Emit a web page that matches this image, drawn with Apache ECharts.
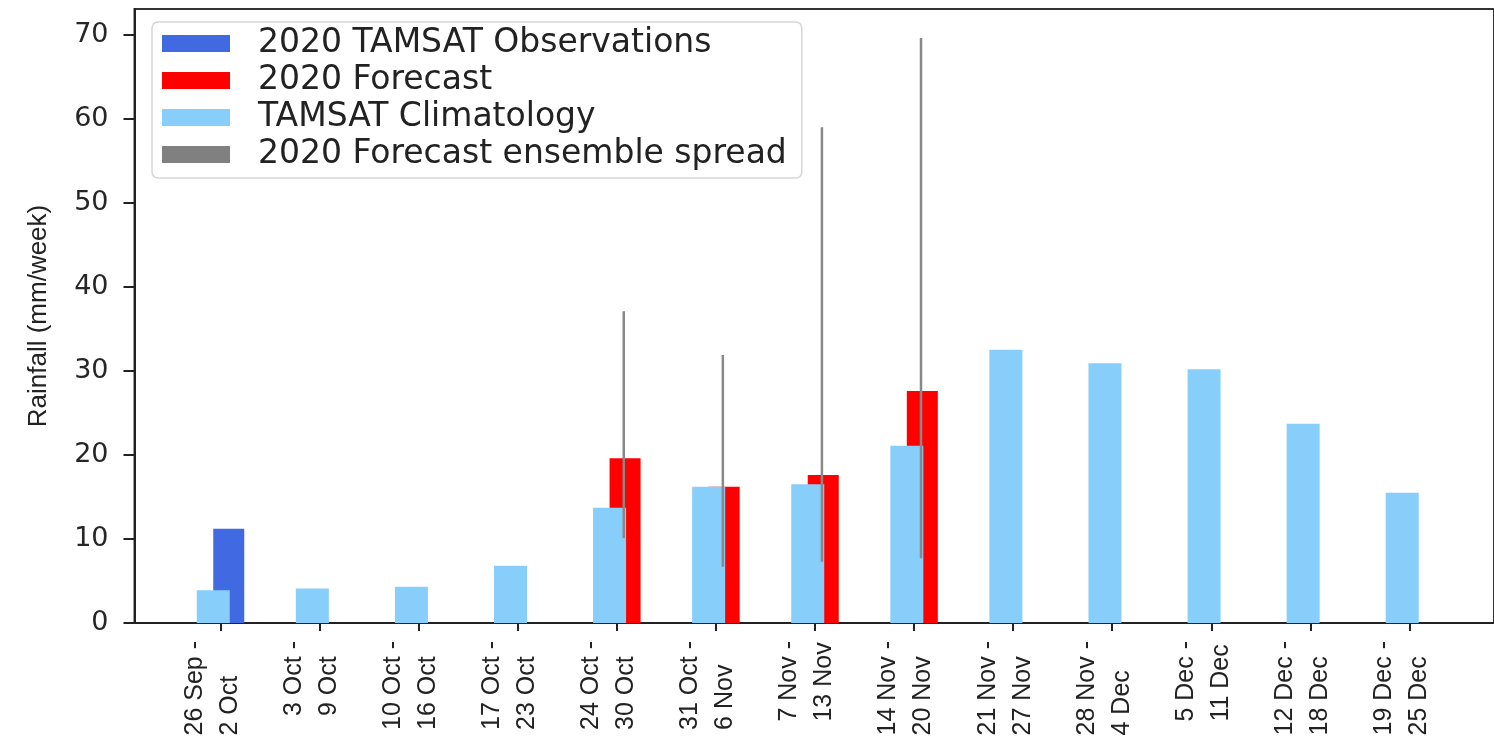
<!DOCTYPE html>
<html>
<head>
<meta charset="utf-8">
<script src="https://cdn.jsdelivr.net/npm/echarts@6/dist/echarts.min.js"></script>
<style>
  html, body { margin: 0; padding: 0; background: #fff; }
  #chart { width: 1494px; height: 750px; }
</style>
</head>
<body>
<div id="chart"></div>
<script>
// weeks (x categories)
var weeks = ['26 Sep -\n2 Oct', '3 Oct -\n9 Oct', '10 Oct -\n16 Oct', '17 Oct -\n23 Oct',
  '24 Oct -\n30 Oct', '31 Oct -\n6 Nov', '7 Nov -\n13 Nov', '14 Nov -\n20 Nov',
  '21 Nov -\n27 Nov', '28 Nov -\n4 Dec', '5 Dec -\n11 Dec', '12 Dec -\n18 Dec', '19 Dec -\n25 Dec'];
// rainfall mm/week
var observations = [11.2, null, null, null, null, null, null, null, null, null, null, null, null];
var forecast = [null, null, null, null, 19.6, 16.2, 17.6, 27.6, null, null, null, null, null];
var climatology = [3.9, 4.1, 4.3, 6.8, 13.7, 16.2, 16.5, 21.1, 32.5, 30.9, 30.2, 23.7, 15.5];
// forecast ensemble spread (min / max)
var spreadLow = [null, null, null, null, 10.1, 6.7, 7.3, 7.7, null, null, null, null, null];
var spreadHigh = [null, null, null, null, 37.1, 31.9, 59.0, 69.6, null, null, null, null, null];
var yTicks = [0, 10, 20, 30, 40, 50, 60, 70];

var tickIdx = [];
for (var i = 0; i < weeks.length; i++) tickIdx.push(i);

function pairs(arr) {
  var out = [];
  for (var i = 0; i < arr.length; i++) out.push([i, arr[i]]);
  return out;
}
var spreadData = [];
for (var i = 0; i < weeks.length; i++) {
  if (spreadLow[i] != null) spreadData.push([i, spreadLow[i], spreadHigh[i]]);
}

var fontAxis = 'Liberation Sans, Arial, sans-serif';
var fontTick = 'DejaVu Sans, sans-serif';

var option = {
  animation: false,
  backgroundColor: '#fff',
  grid: {
    left: 134.5, right: -3, top: 9, bottom: 127,
    show: true, borderColor: '#333', borderWidth: 2, backgroundColor: 'transparent'
  },
  legend: {
    orient: 'vertical',
    left: 152, top: 22,
    padding: [5, 15, 7, 10],
    backgroundColor: 'rgba(255,255,255,0.85)',
    borderColor: '#d6d6d6', borderWidth: 1.5, borderRadius: 6,
    itemWidth: 68, itemHeight: 17, itemGap: 4,
    icon: 'rect',
    textStyle: { fontFamily: fontTick, fontSize: 33, color: '#222', padding: [0, 0, 0, 23] },
    data: [
      { name: '2020 TAMSAT Observations' },
      { name: '2020 Forecast' },
      { name: 'TAMSAT Climatology' },
      { name: '2020 Forecast ensemble spread', itemStyle: { color: '#808080' } }
    ]
  },
  xAxis: {
    type: 'value',
    min: -0.868, max: 12.853,
    splitLine: { show: false },
    axisLine: { show: true, onZero: false, lineStyle: { color: '#222', width: 2 } },
    axisTick: { show: true, length: 8, customValues: tickIdx, lineStyle: { color: '#222', width: 2 } },
    axisLabel: {
      customValues: tickIdx,
      rotate: 90,
      margin: 18,
      padding: [0, 0, 16, 0],
      fontFamily: fontAxis, fontSize: 25, lineHeight: 35, color: '#222',
      formatter: function (v) {
        var lines = weeks[v].split('\n');
        return lines.map(function (s) { return '{a|' + s + '}'; }).join('\n');
      },
      rich: { a: { align: 'left', fontFamily: fontAxis, fontSize: 25, lineHeight: 35, color: '#222' } }
    }
  },
  yAxis: {
    type: 'value',
    min: 0, max: 73.06, interval: 10,
    name: 'Rainfall (mm/week)',
    nameLocation: 'middle', nameRotate: 90, nameGap: 83,
    nameTextStyle: { fontFamily: fontAxis, fontSize: 26, color: '#222' },
    splitLine: { show: false },
    axisLine: { show: true, onZero: false, lineStyle: { color: '#222', width: 2 } },
    axisTick: { show: true, length: 11, lineStyle: { color: '#222', width: 2 } },
    axisLabel: {
      margin: 26, showMaxLabel: false,
      fontFamily: fontTick, fontSize: 27, color: '#262626',
      formatter: function (v) { return yTicks.indexOf(v) >= 0 ? String(v) : ''; }
    }
  },
  series: [
    {
      name: 'TAMSAT Climatology', type: 'bar', z: 3,
      barWidth: 33, barGap: '-50%',
      itemStyle: { color: '#87CEFA' },
      data: pairs(climatology)
    },
    {
      name: '2020 TAMSAT Observations', type: 'bar', z: 2, stack: 'season',
      barWidth: 31, barGap: '-50%',
      itemStyle: { color: '#4169E1' },
      data: pairs(observations)
    },
    {
      name: '2020 Forecast', type: 'bar', z: 2, stack: 'season',
      barWidth: 31, barGap: '-50%',
      itemStyle: { color: '#FF0000' },
      data: pairs(forecast)
    },
    {
      name: '2020 Forecast ensemble spread', type: 'custom', z: 4,
      itemStyle: { color: '#808080' },
      encode: { x: 0, y: [1, 2] },
      renderItem: function (params, api) {
        var x = api.value(0) + 0.07;
        var p1 = api.coord([x, api.value(1)]);
        var p2 = api.coord([x, api.value(2)]);
        return {
          type: 'line',
          shape: { x1: p1[0], y1: p1[1], x2: p2[0], y2: p2[1] },
          style: { stroke: '#888', lineWidth: 2.5 }
        };
      },
      data: spreadData
    }
  ]
};

var myChart = echarts.init(document.getElementById('chart'));
myChart.setOption(option);
window.onresize = myChart.resize;
</script>
</body>
</html>
